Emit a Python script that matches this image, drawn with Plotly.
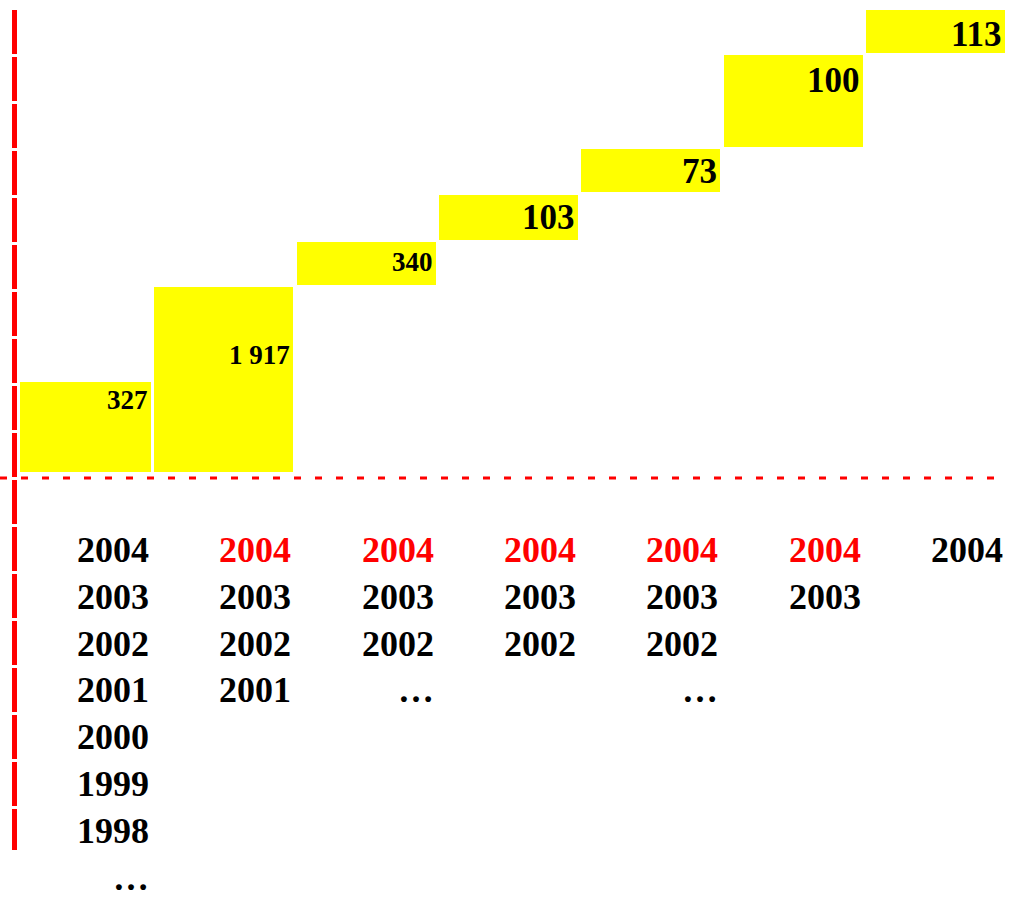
import plotly.graph_objects as go

# ---------------- data ----------------
periods = [0, 1, 2, 3, 4, 5, 6]
bar_labels = ["327", "1 917", "340", "103", "73", "100", "113"]
bar_base = [0, 0, 187, 232, 280, 325, 419]
bar_size = [90, 185, 43, 45, 43, 92, 43]
year_columns = [
    ["2004", "2003", "2002", "2001", "2000", "1999", "1998", "…"],
    ["2004", "2003", "2002", "2001"],
    ["2004", "2003", "2002", "…"],
    ["2004", "2003", "2002"],
    ["2004", "2003", "2002", "…"],
    ["2004", "2003"],
    ["2004"],
]
first_year_red = [False, True, True, True, True, True, False]

# ---------------- styling ----------------
W, H = 1019, 900
PX = 142.3            # pixels per category step
LEFT = 20             # plot area left edge (px)
C0 = 81.5             # pixel centre of first bar
BAR_W = 139 / PX
SERIF = "Liberation Serif, Times New Roman, serif"
YELLOW = "#FFFF00"
RED = "#FF0000"

fig = go.Figure()
fig.add_trace(go.Bar(
    x=periods, y=bar_size, base=bar_base, width=BAR_W,
    marker=dict(color=YELLOW, line=dict(width=0)),
    hoverinfo="skip", showlegend=False,
))

annotations = []
# value labels inside bars, right aligned, near the top
label_font = [27, 27, 27, 35, 35, 35, 35]
label_drop = [18, 68, 20, 22, 22, 25, 24]
for i, (b, s, lab) in enumerate(zip(bar_base, bar_size, bar_labels)):
    annotations.append(dict(
        x=periods[i] + BAR_W / 2, y=b + s - label_drop[i], xref="x", yref="y",
        text=f"<b>{lab}</b>", showarrow=False, xanchor="right", yanchor="middle",
        xshift=-1, font=dict(family=SERIF, size=label_font[i], color="black"),
    ))

# year lists under the baseline
ROW0 = -78
PITCH = 46.8
for i, col in enumerate(year_columns):
    for k, yr in enumerate(col):
        color = RED if (k == 0 and first_year_red[i]) else "black"
        annotations.append(dict(
            x=periods[i] + BAR_W / 2, y=ROW0 - k * PITCH, xref="x", yref="y",
            text=f"<b>{yr}</b>", showarrow=False, xanchor="right", yanchor="middle",
            font=dict(family=SERIF, size=36, color=color),
        ))

shapes = [
    # dashed red baseline
    dict(type="line", xref="paper", yref="y", x0=0, x1=1005 / W, y0=-6, y1=-6,
         line=dict(color=RED, width=3, dash="7px,14px")),
    # red vertical axis with small white breaks
    dict(type="line", xref="paper", yref="paper", x0=14.5 / W, x1=14.5 / W,
         y0=(H - 10) / H, y1=(H - 850) / H,
         line=dict(color=RED, width=5, dash="44px,3px")),
]

fig.update_layout(
    width=W, height=H,
    margin=dict(l=0, r=0, t=0, b=0),
    paper_bgcolor="white", plot_bgcolor="white",
    xaxis=dict(domain=[LEFT / W, 1], range=[(LEFT - C0) / PX, (LEFT - C0) / PX + (W - LEFT) / PX],
               showgrid=False, zeroline=False, showticklabels=False, showline=False, fixedrange=True),
    yaxis=dict(domain=[0, 1], range=[-428, 472],
               showgrid=False, zeroline=False, showticklabels=False, showline=False, fixedrange=True),
    annotations=annotations,
    shapes=shapes,
    bargap=0,
)

fig.write_html(
    "out.html",
    config={"displayModeBar": False},
    post_script="document.body.style.margin='0';document.body.style.overflow='hidden';",
)
